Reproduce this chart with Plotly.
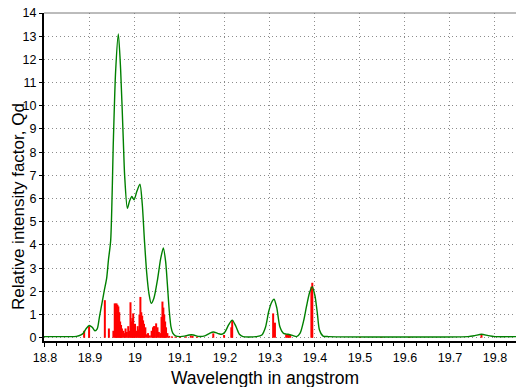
import plotly.graph_objects as go

# Green envelope curve (wavelength, relative intensity)
curve_wl = [18.797, 18.85, 18.87, 18.88, 18.885, 18.891, 18.898, 18.905, 18.911, 18.916,
            18.921, 18.928, 18.932, 18.937, 18.941, 18.946, 18.952, 18.957, 18.963, 18.968,
            18.974, 18.977, 18.983, 18.988, 18.993, 18.998, 19.004, 19.011, 19.016, 19.021,
            19.026, 19.031, 19.036, 19.042, 19.050, 19.057, 19.063, 19.068, 19.072, 19.076,
            19.080, 19.084, 19.090, 19.100, 19.110, 19.120, 19.130, 19.140, 19.155, 19.165,
            19.174, 19.185, 19.193, 19.200, 19.208, 19.216, 19.224, 19.232, 19.240, 19.270,
            19.282, 19.290, 19.297, 19.303, 19.309, 19.315, 19.322, 19.330, 19.340, 19.350,
            19.359, 19.367, 19.375, 19.381, 19.388, 19.394, 19.400, 19.405, 19.410, 19.418,
            19.430, 19.740, 19.755, 19.770, 19.785, 19.800, 19.847]
curve_q = [0.05, 0.05, 0.06, 0.12, 0.19, 0.38, 0.53, 0.45, 0.30, 0.38,
           0.90, 1.63, 2.06, 2.56, 3.35, 4.20, 8.53, 11.5, 13.1, 11.6,
           8.53, 7.00, 5.58, 5.90, 6.09, 5.95, 6.30, 6.62, 5.80, 4.20,
           2.80, 1.90, 1.48, 1.70, 2.50, 3.40, 3.87, 3.30, 2.30, 1.20,
           0.47, 0.20, 0.08, 0.05, 0.07, 0.12, 0.12, 0.06, 0.08, 0.18,
           0.25, 0.18, 0.15, 0.25, 0.55, 0.76, 0.50, 0.15, 0.05, 0.05,
           0.12, 0.45, 1.12, 1.50, 1.66, 1.30, 0.47, 0.19, 0.15, 0.10,
           0.05, 0.20, 0.75, 1.34, 1.95, 2.20, 1.80, 1.10, 0.33, 0.07,
           0.05, 0.05, 0.09, 0.15, 0.09, 0.05, 0.05]

# Red line strengths (stick spectrum)
line_wl = [18.887, 18.898, 18.933, 18.942, 18.952, 18.955, 18.957, 18.959, 18.961, 18.963,
           18.965, 18.967, 18.969, 18.971, 18.974, 18.977, 18.979, 18.982, 18.985, 18.988,
           18.990, 18.992, 18.994, 18.996, 18.998, 19.000, 19.003, 19.006, 19.008, 19.010,
           19.012, 19.014, 19.016, 19.018, 19.020, 19.023, 19.026, 19.029, 19.033, 19.037,
           19.040, 19.042, 19.044, 19.047, 19.050, 19.053, 19.056, 19.059, 19.061, 19.063,
           19.065, 19.067, 19.069, 19.072, 19.076, 19.082, 19.090, 19.100, 19.113, 19.124,
           19.128, 19.138, 19.174, 19.198, 19.214, 19.216, 19.307, 19.311, 19.336, 19.339,
           19.342, 19.345, 19.392, 19.394, 19.500, 19.548, 19.610, 19.770]
line_q = [0.30, 0.50, 1.62, 0.40, 0.30, 1.48, 1.47, 1.48, 1.42, 1.35,
          1.10, 0.70, 0.55, 0.40, 0.30, 0.20, 0.40, 0.25, 0.50, 0.30,
          1.53, 0.70, 0.85, 1.05, 0.55, 0.60, 0.30, 0.50, 0.35, 1.00,
          1.76, 1.10, 0.95, 0.75, 0.60, 0.45, 0.15, 0.20, 0.10, 0.30,
          0.45, 0.50, 0.50, 0.62, 0.45, 0.25, 0.20, 0.90, 1.56, 1.30,
          1.00, 0.70, 0.45, 0.20, 0.08, 0.06, 0.05, 0.05, 0.06, 0.10,
          0.08, 0.05, 0.19, 0.12, 0.45, 0.76, 1.05, 0.65, 0.15, 0.15,
          0.15, 0.12, 2.20, 2.37, 0.03, 0.03, 0.03, 0.12]

x_ticks = [18.8, 18.9, 19.0, 19.1, 19.2, 19.3, 19.4, 19.5, 19.6, 19.7, 19.8]
x_labels = ["18.8", "18.9", "19", "19.1", "19.2", "19.3", "19.4", "19.5", "19.6", "19.7", "19.8"]
y_ticks = list(range(0, 15))
x_title = "Wavelength in angstrom"
y_title = "Relative intensity factor, Qd"

sx, sy = [], []
for w, q in zip(line_wl, line_q):
    sx += [w, w, None]
    sy += [0, q, None]

fig = go.Figure()
fig.add_trace(go.Scatter(x=sx, y=sy, mode="lines",
                         line=dict(color="rgb(255,0,0)", width=2), hoverinfo="skip"))
fig.add_trace(go.Scatter(x=curve_wl, y=curve_q, mode="lines",
                         line=dict(color="rgb(0,128,0)", width=1.4, shape="spline", smoothing=0.7)))

font = "Liberation Sans, Arial, sans-serif"
grid = dict(showgrid=True, gridcolor="rgb(140,140,140)", griddash="1px,3px", gridwidth=1)
fig.update_layout(
    width=516, height=387,
    margin=dict(l=44, r=0, t=13, b=46),
    paper_bgcolor="white", plot_bgcolor="white",
    showlegend=False,
    font=dict(family=font, size=12.5, color="black"),
    xaxis=dict(range=[18.7978, 19.8467], tickvals=x_ticks, ticktext=x_labels,
               automargin=False, **grid,
               showline=True, linecolor="black", linewidth=2,
               ticks="outside", ticklen=4, tickcolor="black", tickwidth=1,
               minor=dict(dtick=0.025, tick0=18.8, ticks="outside", ticklen=3,
                          tickcolor="black", showgrid=False),
               zeroline=False),
    yaxis=dict(range=[-0.14, 14.0], tickvals=y_ticks,
               automargin=False, **grid,
               showline=True, linecolor="black", linewidth=2,
               ticks="outside", ticklen=3, tickcolor="black", tickwidth=1,
               zeroline=False),
)
fig.add_annotation(text=x_title, xref="paper", yref="paper", x=0.468, y=-0.113,
                   xanchor="center", yanchor="middle", showarrow=False,
                   font=dict(size=17.5, family=font, color="black"))
fig.add_annotation(text=y_title, xref="paper", yref="paper", x=-0.054, y=0.41,
                   xanchor="center", yanchor="middle", showarrow=False, textangle=-90,
                   font=dict(size=17, family=font, color="black"))
fig.add_shape(type="line", xref="paper", yref="paper", x0=0, x1=1, y0=1, y1=1,
              line=dict(color="rgb(120,120,120)", width=1))
fig.write_html("out.html", config={"displayModeBar": False},
               post_script="document.body.style.margin='0';document.body.style.overflow='hidden';")
